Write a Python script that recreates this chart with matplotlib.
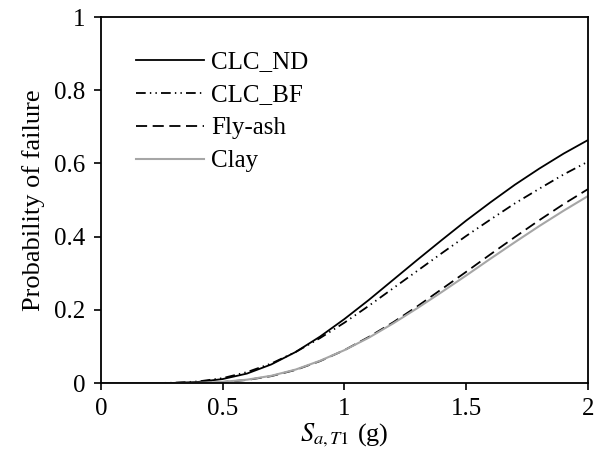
import numpy as np
import matplotlib
matplotlib.use("Agg")
import matplotlib.pyplot as plt

plt.rcParams['font.family'] = ['Liberation Serif', 'DejaVu Serif']
plt.rcParams['mathtext.fontset'] = 'stix'
plt.rcParams['lines.scale_dashes'] = False

# Spectral acceleration (g) and probability of failure per infill type
sa = [0.0, 0.1, 0.2, 0.3, 0.4, 0.5, 0.6, 0.7, 0.8, 0.9, 1.0,
      1.1, 1.2, 1.3, 1.4, 1.5, 1.6, 1.7, 1.8, 1.9, 2.0]
p_clc_nd = [0.0, 0.0, 0.0, 0.0005, 0.0032, 0.011, 0.026, 0.051, 0.085, 0.127, 0.175,
            0.227, 0.282, 0.337, 0.391, 0.444, 0.494, 0.542, 0.586, 0.627, 0.664]
p_clc_bf = [0.0, 0.0, 0.0, 0.0009, 0.0045, 0.0135, 0.030, 0.0535, 0.085, 0.123, 0.165,
            0.211, 0.259, 0.307, 0.355, 0.402, 0.447, 0.491, 0.531, 0.570, 0.605]
p_flyash = [0.0, 0.0, 0.0, 0.0001, 0.0007, 0.003, 0.0085, 0.019, 0.036, 0.060, 0.090,
            0.126, 0.166, 0.210, 0.257, 0.304, 0.352, 0.399, 0.445, 0.489, 0.530]
p_clay = [0.0, 0.0, 0.0, 0.0001, 0.0008, 0.0034, 0.0093, 0.020, 0.037, 0.061, 0.090,
          0.124, 0.163, 0.205, 0.249, 0.294, 0.340, 0.385, 0.429, 0.471, 0.511]

fig = plt.figure(figsize=(6.0, 4.61), dpi=100)
ax = fig.add_axes([0.168, 0.169, 0.812, 0.794])

ax.plot(sa, p_clc_nd, color='black', lw=1.3, label='CLC_ND')
ax.plot(sa, p_clc_bf, color='black', lw=1.3, dashes=(7, 3, 1, 3, 1, 3), label='CLC_BF')
ax.plot(sa, p_flyash, color='black', lw=1.3, dashes=(8, 4), label='Fly-ash')
ax.plot(sa, p_clay, color='#a6a6a6', lw=1.5, label='Clay')

ax.set_xlim(0, 2)
ax.set_ylim(0, 1)
ax.set_xticks([0, 0.5, 1, 1.5, 2])
ax.set_xticklabels(['0', '0.5', '1', '1.5', '2'])
ax.set_yticks([0, 0.2, 0.4, 0.6, 0.8, 1])
ax.set_yticklabels(['0', '0.2', '0.4', '0.6', '0.8', '1'])
ax.tick_params(direction='out', length=5, width=1.2, labelsize=18, pad=6)
for s in ax.spines.values():
    s.set_linewidth(1.3)

ax.set_xlabel(r'$S_{\mathit{a,T1}}$ (g)', fontsize=19, labelpad=1)
ax.set_ylabel('Probability of failure', fontsize=19, labelpad=7)

ax.legend(loc='upper left', bbox_to_anchor=(0.052, 0.935), frameon=False, fontsize=18,
          handlelength=2.7, handletextpad=0.3, labelspacing=0.42, borderaxespad=0)

plt.savefig("out.png", dpi=100)
